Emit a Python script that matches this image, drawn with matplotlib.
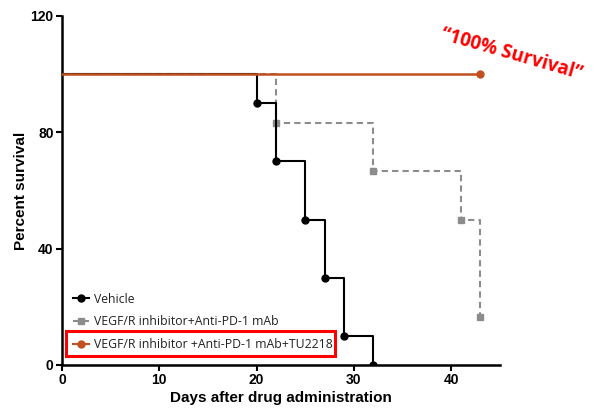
import matplotlib.pyplot as plt
from matplotlib.patches import Rectangle

# Kaplan-Meier survival steps (days, percent)
vehicle_days = [0, 20, 22, 25, 27, 29, 32]
vehicle_surv = [100, 90, 70, 50, 30, 10, 0]

combo_days = [0, 22, 32, 41, 43]
combo_surv = [100, 83.33, 66.67, 50, 16.67]

tu_days = [0, 43]
tu_surv = [100, 100]

labels = ["Vehicle",
          "VEGF/R inhibitor+Anti-PD-1 mAb",
          "VEGF/R inhibitor +Anti-PD-1 mAb+TU2218"]

x_ticks = [0, 10, 20, 30, 40]
y_ticks = [0, 40, 80, 120]


def main():
    fig = plt.figure(figsize=(6.05, 4.09), dpi=100)
    ax = fig.add_axes([0.1025, 0.1076, 0.7235, 0.8534])

    orange = "#c0501f"
    gray = "#8c8c8c"

    ax.step(combo_days, combo_surv, where="post", color=gray, lw=1.5,
            ls=(0, (3, 2)), zorder=3)
    ax.plot(combo_days[1:], combo_surv[1:], "s", color=gray, ms=5, zorder=4)

    ax.step(vehicle_days, vehicle_surv, where="post", color="black", lw=1.5,
            zorder=4)
    ax.plot(vehicle_days[1:], vehicle_surv[1:], "o", color="black", ms=5,
            zorder=5)

    ax.step(tu_days, tu_surv, where="post", color=orange, lw=1.8, zorder=6)
    ax.plot(tu_days[1:], tu_surv[1:], "o", color=orange, ms=5, zorder=7)

    # legend handles
    h1, = ax.plot([], [], "-o", color="black", lw=1.5, ms=5)
    h2, = ax.plot([], [], "-s", color=gray, lw=1.5, ms=5, ls=(0, (3, 2)))
    h3, = ax.plot([], [], "-o", color=orange, lw=1.5, ms=5)
    leg = ax.legend([h1, h2, h3], labels, loc="lower left",
                    bbox_to_anchor=(0.0, 0.008), frameon=False,
                    handlelength=1.3, handletextpad=0.45, labelspacing=0.8,
                    prop={"family": "Open Sans", "size": 8.8})
    for t in leg.get_texts():
        t.set_color("#222222")

    # red box around the third legend entry
    fig.patches.append(Rectangle((66 / 605, 1 - 356 / 409), 269 / 605,
                                 25 / 409, transform=fig.transFigure,
                                 fill=False, edgecolor="#ff0000", lw=2.2))

    ax.set_xlim(0, 45)
    ax.set_ylim(0, 120)
    ax.set_xticks(x_ticks)
    ax.set_yticks(y_ticks)
    for lab in ax.get_xticklabels() + ax.get_yticklabels():
        lab.set_fontweight("bold")
        lab.set_fontfamily("Liberation Sans")
        lab.set_fontsize(10)
    ax.tick_params(direction="out", length=4, width=1.5, pad=2)
    ax.spines["top"].set_visible(False)
    ax.spines["right"].set_visible(False)
    ax.spines["left"].set_linewidth(1.8)
    ax.spines["bottom"].set_linewidth(1.8)

    ax.set_xlabel("Days after drug administration", fontsize=11,
                  fontweight="bold", family="Liberation Sans", labelpad=3)
    ax.set_ylabel("Percent survival", fontsize=11, fontweight="bold",
                  family="Liberation Sans", labelpad=2)

    fig.text(0.845, 0.866, "\u201c100% Survival\u201d", color="#ff0000",
             fontsize=13.5, fontweight="bold", family="Open Sans",
             rotation=-16, ha="center", va="center")

    fig.savefig("out.png", dpi=100)


if __name__ == "__main__":
    main()
